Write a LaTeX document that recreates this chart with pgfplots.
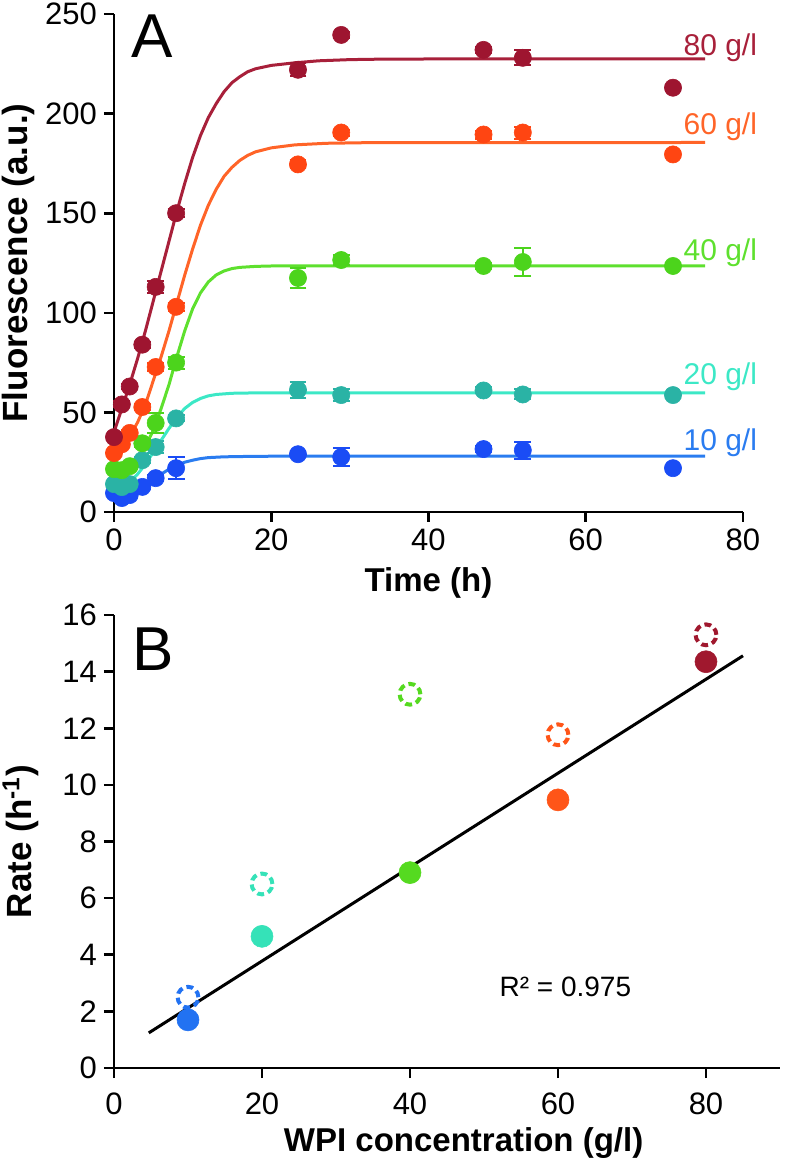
\documentclass[border=0pt]{standalone}
\usepackage{fontspec}
\setmainfont{Liberation Sans}
\usepackage{pgfplots}
\pgfplotsset{compat=1.18}

\definecolor{c80}{HTML}{9E1530}
\definecolor{c80l}{HTML}{A8203A}
\definecolor{c60}{HTML}{FF4512}
\definecolor{c60l}{HTML}{FF6428}
\definecolor{c40}{HTML}{4CD41C}
\definecolor{c40l}{HTML}{5EE02E}
\definecolor{c20}{HTML}{2AB3A5}
\definecolor{c20l}{HTML}{3CE8C6}
\definecolor{c10}{HTML}{1A4CF5}
\definecolor{c10l}{HTML}{2A7CF0}
\definecolor{b80}{HTML}{A0182E}
\definecolor{b60}{HTML}{FF5518}
\definecolor{b40}{HTML}{55DA20}
\definecolor{b20}{HTML}{35E2B8}
\definecolor{b10}{HTML}{2272F2}

\pgfplotsset{
  base/.style={
    scale only axis, clip=false,
    axis lines=left, axis line style={-, line width=1.3pt, black},
    tick align=outside, major tick length=5pt,
    tick style={line width=1.3pt, black},
    /pgf/number format/assume math mode=true,
    tick label style={font=\fontsize{15.5}{17}\selectfont},
    xlabel style={font=\bfseries\fontsize{16.5}{18}\selectfont},
    ylabel style={font=\bfseries\fontsize{17.5}{19}\selectfont},
  },
  pts/.style={only marks, mark=*, mark size=4.3pt,
    mark options={draw=#1, fill=#1, line width=0.3pt},
    error bars/.cd, y dir=both, y explicit,
    error bar style={#1, line width=1pt},
    error mark options={#1, rotate=90, mark size=4.2pt, line width=1pt}},
  fit/.style={#1, line width=1.5pt, no marks},
  full/.style={only marks, mark=*, mark size=5.5pt,
    mark options={draw=#1, fill=#1, line width=0.3pt}},
  open/.style={only marks, mark=o, mark size=5.2pt,
    mark options={draw=#1, line width=2pt, dash pattern=on 3.4pt off 2.1pt}},
}

\begin{document}
\begin{tikzpicture}

% ---- panel A
\begin{axis}[base,
  at={(0pt,278pt)}, anchor=south west,
  width=314.5pt, height=249pt,
  xmin=0, xmax=80, ymin=0, ymax=250,
  xtick={0,20,...,80}, ytick={0,50,...,250},
  xlabel={Time (h)}, ylabel={Fluorescence (a.u.)},
  xlabel style={at={(axis description cs:0.5,0)}, anchor=center, yshift=-35.5pt},
  ylabel style={at={(axis description cs:-0.152,0.5)}, anchor=center},
]
% fitted curves
\addplot[fit=c10l] table {
t y
0 8
1 9
2 10
3 12
4 14
5 16.5
6 19
7 21.5
8 23.5
9 25
10 26
11 26.8
12 27.3
14 27.7
17 27.9
20 28
75.2 28
};
\addplot[fit=c20l] table {
t y
0 12
1 13
2 15
3 19
4 24
5 30
6 36
7 42
8 47.5
9 52
10 55
11 57
12 58.3
13 59
15 59.6
18 59.8
75.2 59.8
};
\addplot[fit=c40l] table {
t y
0 20
1 21
2 23
3 27
4 33
5 41
6 52
7 64
8 78
9 91
10 102
11 110
12 115.5
13 119
14 121
15 122.2
16 122.8
18 123.3
20 123.5
75.2 123.5
};
\addplot[fit=c60l] table {
t y
0 29
1 33
2 38
3 45
4 54
5 66
6 78
7 91
8 105
9 119
10 132
11 144
12 154
13 162
14 168.5
15 173
16 176.5
17 179
18 180.8
20 182.8
23 184.3
27 185.1
32 185.4
75.2 185.5
};
\addplot[fit=c80l] table {
t y
0 40
1 52
2 64
3 77
4 91
5 106
6 121
7 136
8 151
9 165
10 178
11 189
12 198
13 205
14 211
15 215.5
16 218.5
17 221
18 222.5
20 224.2
23 225.5
26 226.5
30 227.1
35 227.4
75.2 227.5
};
% measured points
\addplot[pts=c10] table[x=t, y=y, y error=e] {
t y e
0 9.5 1
1 7 1
2 8.5 1
3.6 12.6 1
5.3 17 1.5
7.9 22 5.4
23.4 29 1.5
28.9 27.6 4.6
47 31.6 1.5
52 31 4.2
71.1 22 1
};
\addplot[pts=c20] table[x=t, y=y, y error=e] {
t y e
0 14 1.5
1 12.5 1.5
2 14 1.5
3.6 26 1.5
5.3 32.6 3
7.9 47 1.5
23.4 61.3 4
28.9 58.7 3
47 61 1.5
52 59 2.5
71.1 58.7 1.5
};
\addplot[pts=c40] table[x=t, y=y, y error=e] {
t y e
0 21.5 1.5
1 21 1.5
2 23 1.5
3.6 34.5 2
5.3 44.7 5
7.9 75 3
23.4 117.5 5
28.9 126.5 2.7
47 123.5 1.5
52 125.5 7
71.1 123.5 1.5
};
\addplot[pts=c60] table[x=t, y=y, y error=e] {
t y e
0 29.6 1.5
1 34 1.5
2 39.7 1.5
3.6 52.7 1.5
5.3 72.8 2
7.9 103 2
23.4 174.5 2
28.9 190.5 1.5
47 189.5 2
52 190.5 3
71.1 179.5 1.5
};
\addplot[pts=c80] table[x=t, y=y, y error=e] {
t y e
0 37.6 1.5
1 54 1.5
2 63 1.5
3.6 84 1.5
5.3 113 3
7.9 150 2
23.4 222 3.3
28.9 239.5 1.5
47 232 1.5
52 228 3.7
71.1 213 1.5
};
\begin{scope}[every node/.style={anchor=base west, inner sep=0pt, font=\fontsize{15}{16}\selectfont}]
\node[text=c80l] at (axis cs:72.4,229.4) {80 g/l};
\node[text=c60l] at (axis cs:72.4,189.3) {60 g/l};
\node[text=c40l] at (axis cs:72.4,126.5) {40 g/l};
\node[text=c20l] at (axis cs:72.4,63.8) {20 g/l};
\node[text=c10l] at (axis cs:72.4,31.1) {10 g/l};
\end{scope}
\node[font=\fontsize{31}{31}\selectfont, inner sep=0pt] at (axis cs:4.8,239) {A};
\end{axis}

% ---- panel B
\begin{axis}[base,
  at={(0pt,0pt)}, anchor=south west,
  width=333pt, height=226.5pt,
  xmin=0, xmax=90, ymin=0, ymax=16,
  xtick={0,20,...,80}, ytick={0,2,...,16},
  xticklabel style={yshift=-4pt},
  xlabel={WPI concentration (g/l)}, ylabel={Rate (h\textsuperscript{-1})},
  xlabel style={at={(axis description cs:0.525,0)}, anchor=center, yshift=-37.5pt},
  ylabel style={at={(axis description cs:-0.14,0.5)}, anchor=center},
]
\addplot[black, line width=1.5pt] coordinates {(4.7,1.24) (85,14.56)};
\addplot[full=b10] coordinates {(10,1.7)};
\addplot[full=b20] coordinates {(20,4.65)};
\addplot[full=b40] coordinates {(40,6.9)};
\addplot[full=b60] coordinates {(60,9.47)};
\addplot[full=b80] coordinates {(80,14.35)};
\addplot[open=b10] coordinates {(10,2.5)};
\addplot[open=b20] coordinates {(20,6.5)};
\addplot[open=b40] coordinates {(40,13.2)};
\addplot[open=b60] coordinates {(60,11.77)};
\addplot[open=b80] coordinates {(80,15.3)};
\node[font=\fontsize{14}{15}\selectfont] at (axis cs:61,2.86) {R² = 0.975};
\node[font=\fontsize{31}{31}\selectfont, inner sep=0pt] at (axis cs:5.3,14.8) {B};
\end{axis}

\pgfresetboundingbox
\path (-57pt,-48pt) rectangle (335pt,534pt);
\end{tikzpicture}
\end{document}
